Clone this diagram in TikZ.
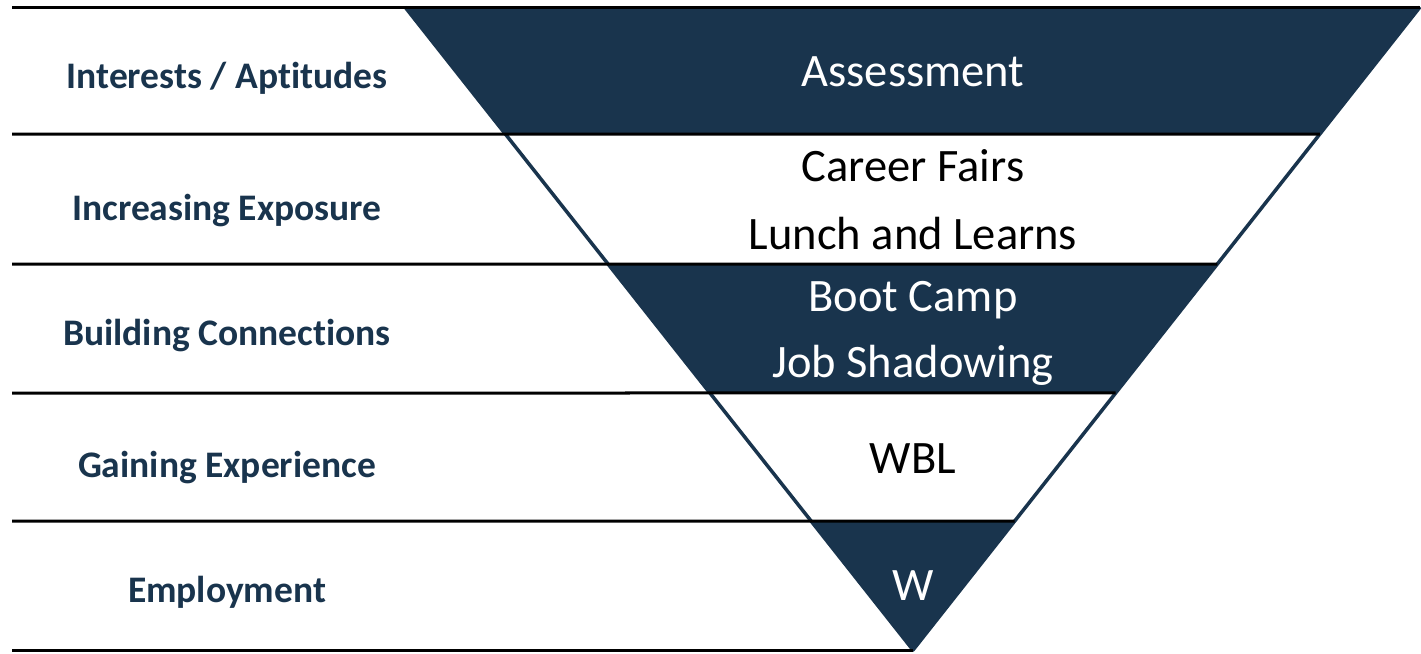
\documentclass[tikz,border=0pt]{standalone}
\usepackage{fontspec}
\setmainfont{Carlito}[Ligatures=NoCommon]
\usetikzlibrary{calc}
\definecolor{navy}{RGB}{25,52,77}
\newcommand{\nolig}{\kern0pt{}}
\begin{document}
\begin{tikzpicture}[x=1pt,y=-1pt,
  leftlab/.style={anchor=base, inner sep=0pt, text=navy, font=\fontsize{37.5}{37.5}\selectfont\bfseries},
  rightlab/.style={anchor=base, inner sep=0pt, font=\fontsize{46.5}{46.5}\selectfont},
  darklab/.style={rightlab, text=white},
  lightlab/.style={rightlab, text=black},
  bandfill/.style={fill=navy},
  rulerline/.style={draw=black, line width=3pt},
  edgeline/.style={draw=navy, line width=3.5pt, line join=round}]
\useasboundingbox (0,0) rectangle (1421,653);
% triangle corners
\coordinate (TL) at (405,7);
\coordinate (TR) at (1420,7);
\coordinate (A) at (913,650);
% left end points of rulers
\coordinate (R0) at (12,7);
\coordinate (R1) at (12,134);
\coordinate (R2) at (12,264);
\coordinate (R3) at (12,393);
\coordinate (R4) at (12,521);
\coordinate (R5) at (12,650);
% points on the triangle edges
\coordinate (L1) at ($(TL)!{127/643}!(A)$);
\coordinate (Q1) at ($(TR)!{127/643}!(A)$);
\coordinate (L2) at ($(TL)!{257/643}!(A)$);
\coordinate (Q2) at ($(TR)!{257/643}!(A)$);
\coordinate (L3) at ($(TL)!{386/643}!(A)$);
\coordinate (Q3) at ($(TR)!{386/643}!(A)$);
\coordinate (L4) at ($(TL)!{514/643}!(A)$);
\coordinate (Q4) at ($(TR)!{514/643}!(A)$);
% dark bands
\fill[bandfill] (TL) -- (TR) -- (Q1) -- (L1) -- cycle;
\fill[bandfill] (L2) -- (Q2) -- (Q3) -- (L3) -- cycle;
\fill[bandfill] (L4) -- (Q4) -- (A) -- cycle;
% triangle outline
\draw[edgeline] (TL) -- (A) -- (TR);
% rulers
\draw[rulerline] (R0) -- (TR);
\draw[rulerline] (R1) -- (Q1);
\draw[rulerline] (R2) -- (Q2);
\draw[rulerline] (R3) -- (Q3);
\draw[rulerline] (R4) -- (Q4);
\draw[rulerline] (R5) -- (A);
% left labels
\node[leftlab] (l1) at (227,88) {Interests / Apt\nolig i\nolig tudes};
\node[leftlab] (l2) at (227,220) {Increasing Exposure};
\node[leftlab] (l3) at (227,345) {Building Connect\nolig ions};
\node[leftlab] (l4) at (227,477) {Gaining Experience};
\node[leftlab] (l5) at (227,602) {Employment};
% triangle labels
\node[darklab] (t1) at (913,86) {Assessment};
\node[lightlab] (t2) at (913,181) {Career Fairs};
\node[lightlab] (t3) at (913,249) {Lunch and Learns};
\node[darklab] (t4) at (913,311) {Boot Camp};
\node[darklab] (t5) at (913,377) {Job Shadowing};
\node[lightlab] (t6) at (913,473) {WBL};
\node[darklab] (t7) at (913,600) {W};
\end{tikzpicture}
\end{document}
